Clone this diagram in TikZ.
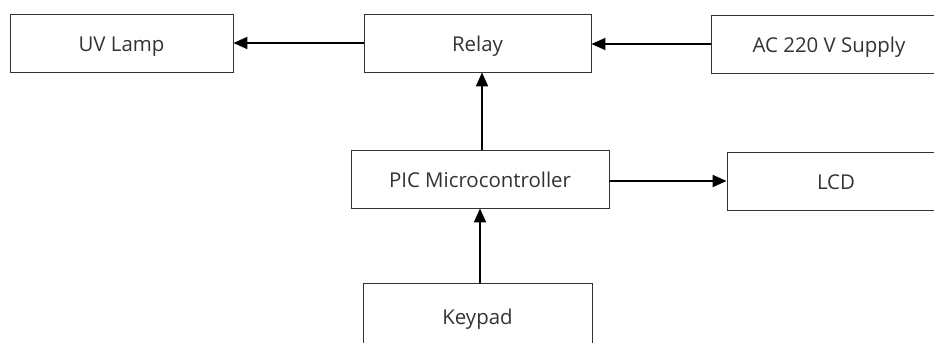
\documentclass[tikz,border=0pt]{standalone}
\usepackage{fontspec}
\setmainfont{Open Sans}
\usetikzlibrary{arrows.meta,calc}
\begin{document}
\begin{tikzpicture}[x=1bp,y=1bp,
  blk/.style={draw=black!80,line width=0.9bp,minimum height=58bp,inner sep=0pt,font=\fontsize{20.5}{24}\selectfont,text=black!80,text height=17.5bp,text depth=0bp},
  arr/.style={line width=2bp,-{Triangle[length=14bp,width=12bp]}}]
\useasboundingbox (0,0) rectangle (934,342);
\clip (0,0) rectangle (934,342);
\node[blk,minimum width=223bp] (uv) at (121.5,299) {UV Lamp};
\node[blk,minimum width=227bp] (relay) at (477.5,299) {Relay};
\node[blk,minimum width=236bp] (ac) at (829,298) {AC 220 V Supply};
\node[blk,minimum width=258bp] (pic) at (480,163) {PIC Microcontroller};
\node[blk,minimum width=218bp] (lcd) at (836,161) {LCD};
\node[blk,minimum width=229bp,minimum height=64bp,anchor=north] (key) at (477.5,59) {Keypad};
\draw[arr] (relay.west) -- (uv.east);
\draw[arr] (ac.west) -- (ac.west -| relay.east);
\draw[arr] ([xshift=2bp]pic.north) -- ([xshift=2bp]pic.north |- relay.south);
\draw[arr] (pic.east |- lcd.west) -- (lcd.west);
\draw[arr] (key.north -| pic.south) -- (pic.south);
\end{tikzpicture}
\end{document}
